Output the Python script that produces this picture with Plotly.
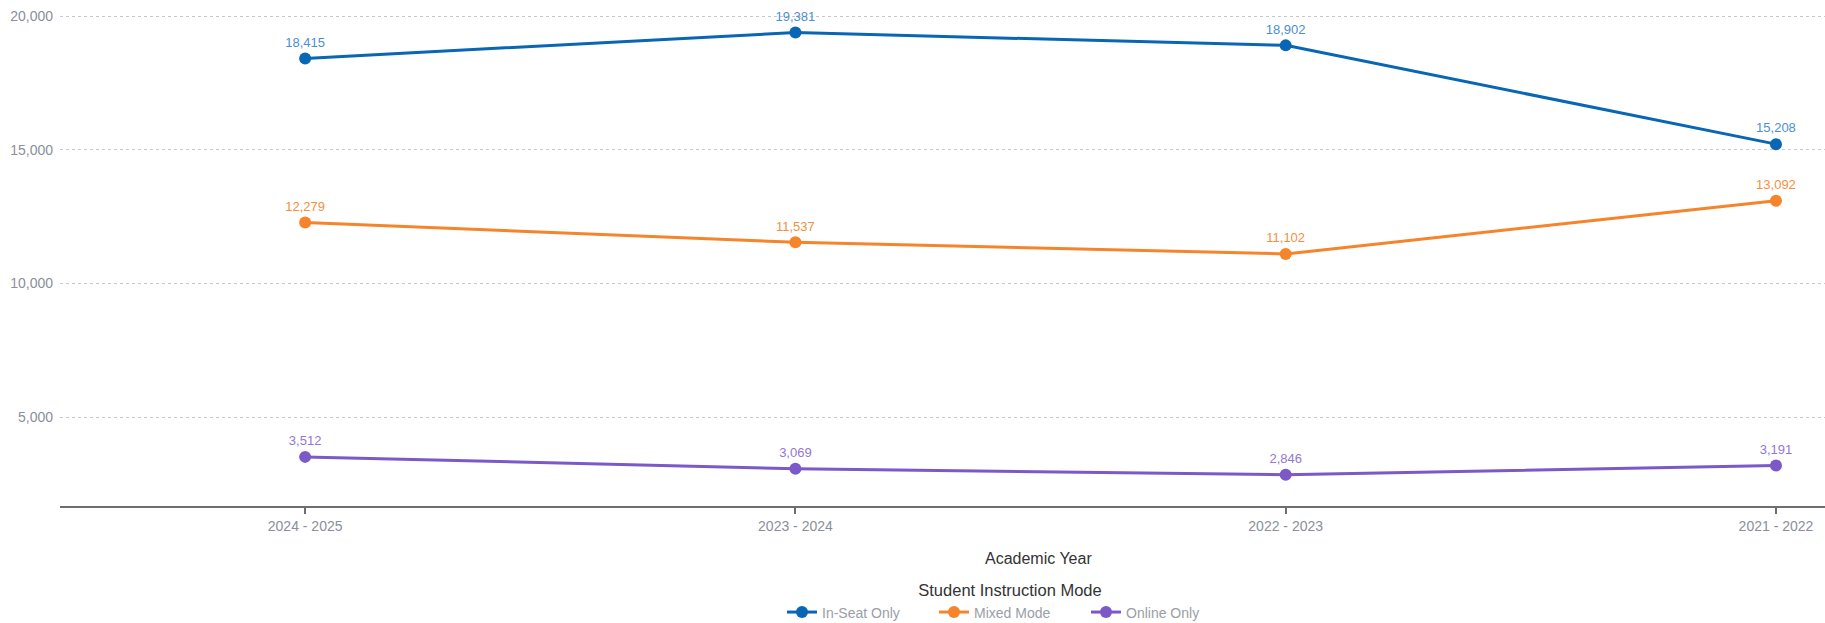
import plotly.graph_objects as go

years = ["2024 - 2025", "2023 - 2024", "2022 - 2023", "2021 - 2022"]
in_seat = [18415, 19381, 18902, 15208]
mixed = [12279, 11537, 11102, 13092]
online = [3512, 3069, 2846, 3191]
series_names = ["In-Seat Only", "Mixed Mode", "Online Only"]
line_colors = ["#0866b4", "#f5842a", "#7b59c8"]
label_colors = ["#4b8fd3", "#f58f3f", "#9278d2"]
y_ticks = [5000, 10000, 15000, 20000]

FONT = "Liberation Sans, Arial, Helvetica, sans-serif"

fig = go.Figure()
for name, vals, lc, tc in zip(series_names, [in_seat, mixed, online], line_colors, label_colors):
    fig.add_trace(go.Scatter(
        x=years, y=vals, name=name, mode="lines+markers+text",
        line=dict(color=lc, width=3),
        marker=dict(color=lc, size=12),
        text=[f"{v:,}" for v in vals],
        textposition="top center",
        textfont=dict(color=tc, size=13, family=FONT),
        cliponaxis=False,
    ))

PLOT_W = 1765
PLOT_H = 492
fig.update_layout(
    width=1825, height=623,
    margin=dict(l=60, r=0, t=14, b=117, autoexpand=False),
    paper_bgcolor="white", plot_bgcolor="white",
    font=dict(family=FONT, color="#8a8f99"),
    showlegend=True,
    legend=dict(
        orientation="h", xref="paper", yanchor="top",
        x=(782 - 60) / PLOT_W, xanchor="left", y=-(575 - 506) / PLOT_H,
        entrywidth=107, entrywidthmode="pixels",
        font=dict(size=14, color="#9a9ea6", family=FONT),
        title=dict(text="Student Instruction Mode", side="top center",
                   font=dict(size=16.5, color="#333333", family=FONT)),
    ),
)

fig.update_xaxes(
    type="category", range=[-0.5, 3.1],
    showgrid=False, showline=True, linecolor="#6e6e6e", linewidth=1.5,
    ticks="outside", ticklen=6, tickcolor="#6e6e6e", tickwidth=1.5,
    tickfont=dict(size=14, color="#8a8f99"),
    title=dict(text=""),
)
fig.update_yaxes(
    range=[1675, 20075], tickvals=y_ticks, tickformat=",",
    showgrid=True, gridcolor="#c8c8c8", griddash="dot", gridwidth=1,
    zeroline=False, showline=False,
    tickfont=dict(size=14, color="#8a8f99"), ticklabelstandoff=6,
)

# Axis title centered on the full (uncropped) plot area
fig.add_annotation(
    text="Academic Year", xref="paper", yref="paper",
    x=(1038 - 60) / PLOT_W, y=-(558 - 506) / PLOT_H, xanchor="center", yanchor="middle",
    showarrow=False, font=dict(size=16, color="#333333", family=FONT),
)

fig.write_html("out.html")
